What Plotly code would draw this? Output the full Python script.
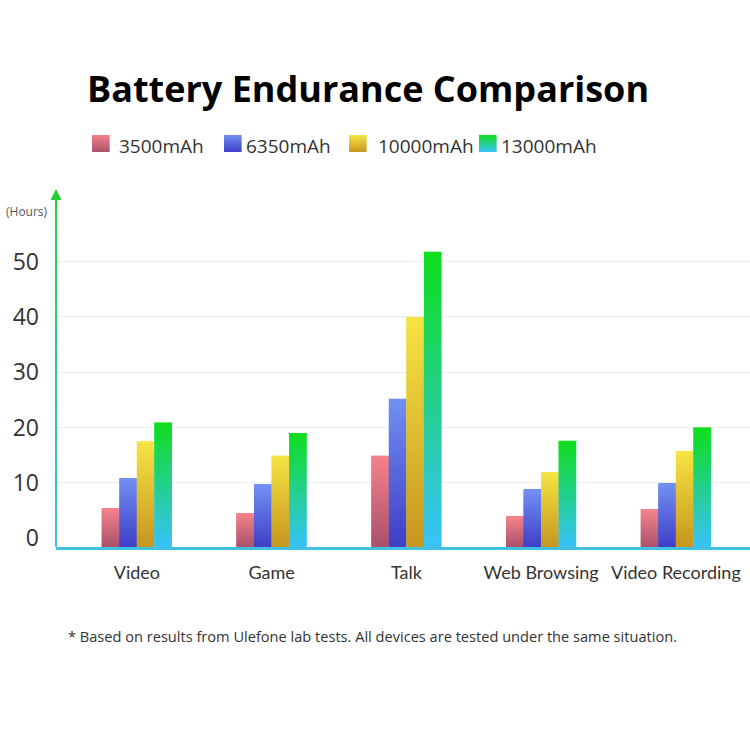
import plotly.graph_objects as go

# ---------------- data ----------------
categories = ["Video", "Game", "Talk", "Web Browsing", "Video Recording"]
series_names = ["3500mAh", "6350mAh", "10000mAh", "13000mAh"]
v3500 = [5.4, 4.5, 14.9, 3.9, 5.1]
v6350 = [10.7, 9.6, 25.2, 8.7, 9.8]
v10000 = [17.5, 14.9, 40.0, 11.9, 15.7]
v13000 = [20.9, 19.0, 51.8, 17.6, 20.0]
y_ticks = [0, 10, 20, 30, 40, 50]
title_text = "Battery Endurance Comparison"
y_unit = "(Hours)"
footnote = "* Based on results from Ulefone lab tests. All devices are tested under the same situation."

series_values = [v3500, v6350, v10000, v13000]
# gradient colours (bottom, top)
grads = [("#a9506c", "#f4828a"),
         ("#3f3ec6", "#7190f2"),
         ("#c6961f", "#f6e444"),
         ("#38c2fa", "#0fde1c")]

W, H = 750, 750
L, R, T, B = 56, 0, 192, 203
PW, PH = W - L - R, H - T - B
Y0 = -1.63
YMAX = 62.6


def hex2rgb(h):
    h = h.lstrip("#")
    return tuple(int(h[i:i + 2], 16) for i in (0, 2, 4))


def mix(c1, c2, t):
    a, b = hex2rgb(c1), hex2rgb(c2)
    return "rgb(%d,%d,%d)" % tuple(round(a[i] + (b[i] - a[i]) * t) for i in range(3))


def px(xp):
    return (xp - L) / PW


def py(yp):
    return (H - B - yp) / PH


fig = go.Figure()
N = 60
for s, (name, vals) in enumerate(zip(series_names, series_values)):
    c_bot, c_top = grads[s]
    for k in range(N):
        hs = [(v - Y0) / N for v in vals]
        fig.add_trace(go.Bar(
            x=categories,
            y=[h * (1.0 if k == N - 1 else 1.8) for h in hs],
            base=[Y0 + k * h for h in hs],
            offsetgroup=str(s),
            marker=dict(color=mix(c_bot, c_top, (k + 0.5) / N), line=dict(width=0)),
            showlegend=False,
            hoverinfo="skip",
            name=name,
        ))

shapes = []
annotations = []

# y axis line with gradient
NS = 40
for k in range(NS):
    shapes.append(dict(type="line", xref="paper", yref="paper",
                       x0=0, x1=0, y0=k / NS, y1=(k + 1) / NS,
                       line=dict(color=mix("#3cc0e6", "#22cc33", (k + 0.5) / NS), width=2)))
# arrow head
annotations.append(dict(xref="paper", yref="paper", x=0, y=py(189), ax=0, ay=12,
                        text="", showarrow=True,
                        arrowhead=2, arrowsize=1.1, arrowwidth=2, arrowcolor="#22cc33"))

# custom legend
leg_sq_x = [92, 224, 349, 479]
leg_tx_x = [117, 244, 376, 499]
for s, name in enumerate(series_names):
    c_bot, c_top = grads[s]
    NL = 17
    for k in range(NL):
        y0p = 152 - k * 17 / NL
        y1p = 152 - (k + 1) * 17 / NL - (0.6 if k < NL - 1 else 0)
        shapes.append(dict(type="rect", xref="paper", yref="paper",
                           x0=px(leg_sq_x[s]), x1=px(leg_sq_x[s] + 17.5),
                           y0=py(y0p), y1=py(y1p),
                           fillcolor=mix(c_bot, c_top, (k + 0.5) / NL), line=dict(width=0)))
    annotations.append(dict(xref="paper", yref="paper", x=px(leg_tx_x[s]), y=py(146),
                            xanchor="left", yanchor="middle", text=name, showarrow=False,
                            font=dict(family="Open Sans", size=19, color="#333333")))

# title
annotations.append(dict(xref="paper", yref="paper", x=px(368), y=py(89),
                        xanchor="center", yanchor="middle", text="<b>%s</b>" % title_text,
                        showarrow=False,
                        font=dict(family="Open Sans", size=36, color="#000000")))
# unit
annotations.append(dict(xref="paper", yref="paper", x=px(4), y=py(211),
                        xanchor="left", yanchor="middle", text=y_unit, showarrow=False,
                        font=dict(family="Open Sans", size=12, color="#555555")))
# footnote
annotations.append(dict(xref="paper", yref="paper", x=px(372), y=py(636),
                        xanchor="center", yanchor="middle", text=footnote, showarrow=False,
                        font=dict(family="Open Sans", size=14.6, color="#333333")))

fig.update_layout(
    width=W, height=H,
    margin=dict(l=L, r=R, t=T, b=B, pad=0),
    paper_bgcolor="white", plot_bgcolor="white",
    barmode="group", bargap=0.48, bargroupgap=0,
    showlegend=False,
    shapes=shapes, annotations=annotations,
    xaxis=dict(range=[-0.6, 4.55], showline=True, linecolor="#40c0e2", linewidth=2.5,
               showgrid=False, zeroline=False, ticks="", ticklabelstandoff=8,
               tickfont=dict(family="Lato", size=18, color="#333333")),
    yaxis=dict(range=[Y0, YMAX], tickvals=y_ticks, showline=False,
               showgrid=True, gridcolor="#eeeeee", gridwidth=1,
               zeroline=True, zerolinecolor="rgba(0,0,0,0)",
               ticks="", ticklabelstandoff=16,
               tickfont=dict(family="Open Sans", size=23, color="#333333")),
    font=dict(family="Open Sans"),
)

fig.write_html("out.html")
